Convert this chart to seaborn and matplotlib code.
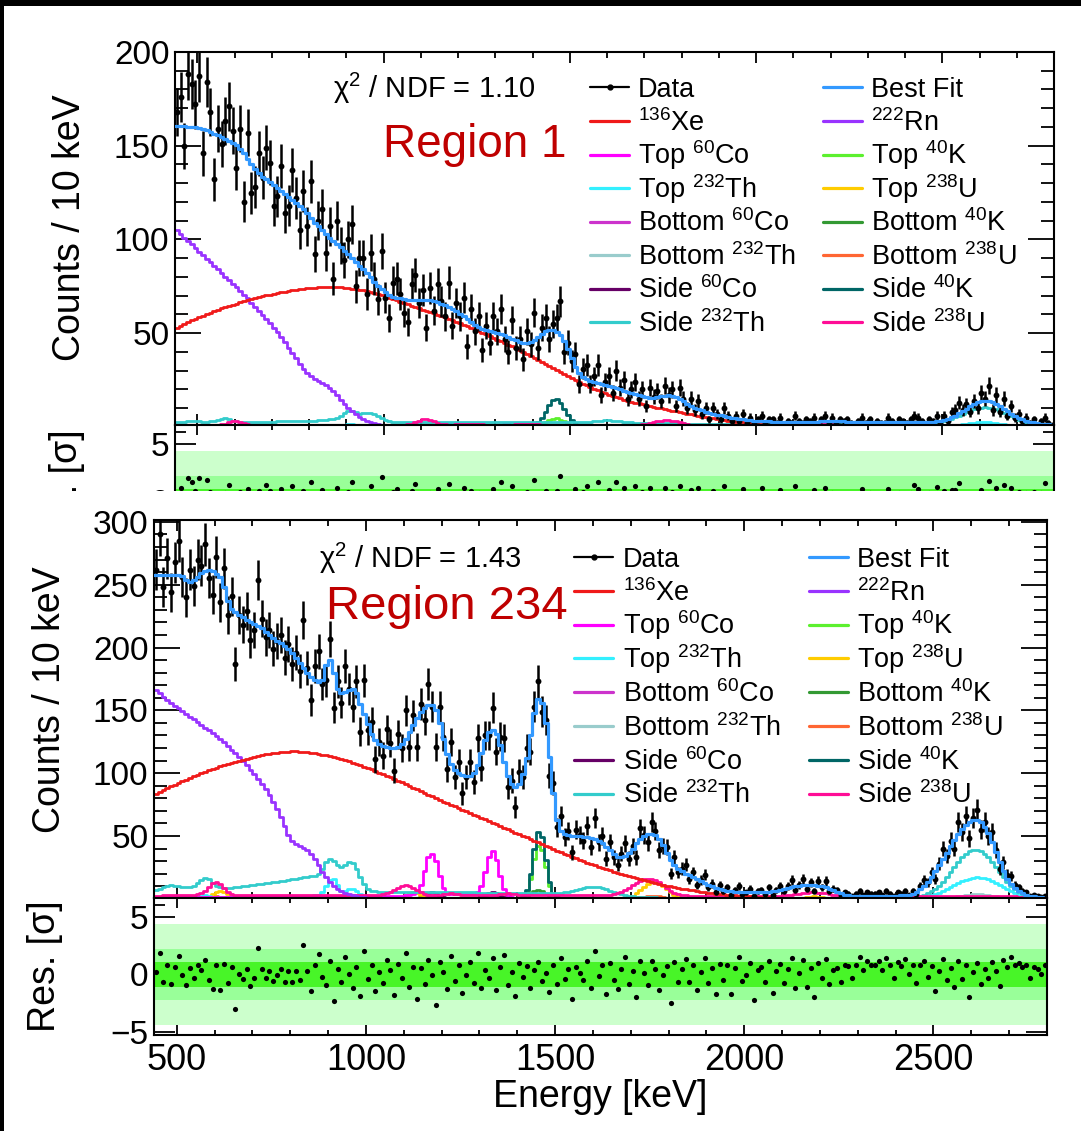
import numpy as np
import matplotlib
matplotlib.use("Agg")
import matplotlib.pyplot as plt
from matplotlib.lines import Line2D
from matplotlib.patches import Rectangle
from matplotlib.ticker import MultipleLocator, FixedLocator
import seaborn as sns

sns.set_theme(style="ticks")
plt.rcParams["font.family"] = ["Liberation Sans", "DejaVu Sans"]
plt.rcParams["mathtext.fontset"] = "custom"
plt.rcParams["mathtext.rm"] = "Liberation Sans"
plt.rcParams["mathtext.it"] = "Liberation Sans:italic"
plt.rcParams["mathtext.bf"] = "Liberation Sans:bold"

# ---------------------------------------------------------------- binning
E_MIN, E_MAX, BIN_W = 440, 2800, 10
edges = np.arange(E_MIN, E_MAX + BIN_W, BIN_W)
centers = edges[:-1] + BIN_W / 2
N_BINS = len(centers)


def seg(start, vals):
    """Bin contents given from the bin centred at `start` onwards; empty elsewhere."""
    out = np.zeros(N_BINS)
    i0 = int(round((start - centers[0]) / BIN_W))
    out[i0:i0 + len(vals)] = vals
    return out


# ================================================================ Region 1
r1_data = [
    168, 176, 150, 188, 183, 172, 187, 146, 184, 168,
    132, 159, 151, 163, 171, 158, 138, 159, 120, 157,
    125, 128, 146, 133, 149, 141, 118, 123, 139, 114,
    118, 137, 122, 105, 126, 107, 131, 92, 110, 116,
    93, 107, 79, 110, 97, 89, 100, 108, 75, 90,
    90, 71, 93, 79, 68, 94, 69, 58, 77, 79,
    71, 61, 56, 76, 81, 66, 73, 53, 74, 62,
    76, 67, 59, 77, 54, 66, 59, 69, 43, 63,
    51, 59, 41, 54, 45, 59, 51, 63, 47, 40,
    57, 42, 47, 36, 51, 44, 61, 42, 53, 58,
    47, 55, 58, 67, 40, 45, 35, 39, 23, 31,
    33, 23, 27, 33, 17, 24, 27, 18, 30, 21,
    25, 15, 20, 24, 15, 20, 11, 21, 16, 19,
    14, 22, 17, 20, 11, 21, 15, 10, 15, 9,
    14, 7, 10, 4, 10, 7, 4, 10, 6, 3,
    6, 3, 7, 2, 5, 2, 4, 6, 2, 4,
    4, 2, 5, 1, 3, 2, 6, 3, 2, 4,
    3, 5, 1, 4, 6, 2, 5, 2, 4, 3,
    4, 2, 1, 3, 5, 2, 4, 1, 3, 2,
    2, 5, 3, 1, 4, 3, 2, 4, 6, 5,
    3, 1, 4, 3, 6, 2, 6, 3, 8, 9,
    13, 9, 12, 8, 14, 10, 18, 15, 22, 9,
    17, 8, 15, 6, 11, 5, 7, 3, 5, 2,
    4, 1, 3, 5, 2, 1,
]
r1_fit = [
    160.5, 160.5, 160.3, 160.2, 160.0, 159.8, 159.5, 159.0, 158.3, 157.5,
    156.5, 155.5, 154.5, 153.5, 152.5, 151.5, 150.5, 148.5, 146.0, 143.0,
    140.0, 137.5, 135.5, 133.5, 132.0, 130.5, 129.0, 127.5, 126.0, 124.5,
    122.5, 121.0, 119.5, 118.0, 116.0, 114.0, 111.5, 109.0, 107.0, 105.0,
    103.0, 101.0, 99.0, 97.5, 96.0, 94.0, 92.0, 90.0, 88.0, 86.0,
    84.0, 82.0, 80.0, 77.5, 75.0, 73.5, 72.0, 70.5, 69.5, 69.0,
    68.5, 68.0, 67.8, 67.7, 67.7, 67.8, 67.8, 67.8, 67.6, 67.2,
    66.6, 65.8, 64.8, 63.8, 62.8, 61.6, 60.3, 59.0, 57.5, 56.0,
    54.5, 53.2, 52.2, 51.5, 51.0, 50.5, 50.2, 49.8, 49.0, 48.0,
    47.0, 46.2, 45.5, 45.0, 45.0, 45.5, 46.5, 48.0, 49.5, 51.0,
    51.8, 51.7, 50.8, 49.0, 46.0, 41.5, 37.0, 32.0, 28.5, 26.5,
    25.5, 24.7, 24.0, 23.5, 23.0, 22.5, 21.8, 21.2, 20.6, 20.0,
    19.3, 18.7, 18.0, 17.4, 16.8, 16.3, 15.8, 15.5, 15.5, 15.8,
    16.3, 16.7, 16.8, 16.5, 15.8, 14.8, 13.6, 12.4, 11.2, 10.3,
    9.5, 8.8, 8.1, 7.5, 7.0, 6.5, 6.1, 5.7, 5.3, 5.0,
    4.7, 4.4, 4.1, 3.8, 3.6, 3.4, 3.2, 3.1, 3.0, 2.9,
    2.85, 2.8, 2.8, 2.8, 2.8, 2.8, 2.8, 2.8, 2.8, 2.8,
    2.8, 2.8, 2.85, 2.9, 3.1, 3.3, 3.4, 3.3, 3.1, 2.9,
    2.7, 2.6, 2.5, 2.5, 2.5, 2.5, 2.5, 2.5, 2.5, 2.5,
    2.5, 2.5, 2.5, 2.5, 2.5, 2.5, 2.5, 2.5, 2.5, 2.5,
    2.5, 2.5, 2.5, 2.7, 2.9, 3.2, 3.7, 4.3, 5.1, 6.0,
    7.2, 8.5, 9.8, 11.1, 12.3, 13.2, 13.8, 14.0, 13.8, 13.2,
    12.2, 11.0, 9.6, 8.3, 7.0, 5.8, 4.8, 4.0, 3.3, 2.8,
    2.4, 2.0, 1.7, 1.5, 1.3, 1.2,
]
r1_xe = seg(445, [
    53.0, 54.0, 55.0, 55.9, 56.8, 57.7, 58.6, 59.4, 60.2, 61.0,
    61.8, 62.5, 63.2, 63.9, 64.6, 65.2, 65.8, 66.4, 67.0, 67.6,
    68.1, 68.6, 69.1, 69.6, 70.1, 70.5, 70.9, 71.3, 71.7, 72.1,
    72.5, 72.8, 73.1, 73.4, 73.7, 73.9, 74.1, 74.3, 74.5, 74.6,
    74.7, 74.7, 74.7, 74.6, 74.5, 74.3, 74.1, 73.8, 73.5, 73.2,
    72.8, 72.3, 71.8, 71.3, 70.7, 70.1, 69.5, 68.9, 68.2, 67.5,
    66.8, 66.1, 65.4, 64.7, 64.0, 63.3, 62.6, 61.9, 61.2, 60.5,
    59.8, 59.1, 58.4, 57.6, 56.8, 56.0, 55.2, 54.4, 53.6, 52.8,
    52.0, 51.1, 50.2, 49.3, 48.4, 47.5, 46.6, 45.7, 44.8, 43.9,
    43.0, 42.0, 41.0, 40.0, 39.0, 38.0, 37.0, 35.9, 34.8, 33.7,
    32.6, 31.5, 30.4, 29.3, 28.2, 27.1, 26.0, 25.0, 24.0, 23.0,
    22.1, 21.2, 20.3, 19.5, 18.7, 17.9, 17.2, 16.5, 15.8, 15.2,
    14.6, 14.0, 13.5, 13.0, 12.5, 12.0, 11.5, 11.1, 10.7, 10.3,
    9.9, 9.5, 9.1, 8.7, 8.3, 7.9, 7.5, 7.1, 6.7, 6.3,
    5.9, 5.5, 5.1, 4.8, 4.5, 4.2, 3.9, 3.6, 3.3, 3.0,
    2.8, 2.6, 2.4, 2.2, 2.0, 1.8, 1.6, 1.4, 1.3, 1.2,
    1.1, 1.0, 0.9, 0.8, 0.7, 0.6, 0.5, 0.45, 0.4, 0.35,
    0.3, 0.25, 0.2, 0.15, 0.1, 0.1, 0.05, 0.05, 0.0, 0.0,
])
r1_rn = seg(445, [
    105.0, 103.0, 101.0, 99.2, 97.3, 95.4, 93.5, 91.6, 89.7, 87.8,
    85.9, 84.0, 82.1, 80.2, 78.3, 76.4, 74.5, 72.5, 70.5, 68.5,
    66.3, 64.1, 61.9, 59.7, 57.5, 55.2, 52.8, 50.4, 47.8, 45.1,
    42.3, 39.4, 36.5, 33.6, 30.8, 28.6, 27.0, 25.8, 24.7, 23.6,
    22.4, 21.0, 19.2, 17.0, 14.6, 12.3, 10.3, 8.5, 6.9, 5.5,
    4.3, 3.3, 2.5, 1.9, 1.4, 1.0, 0.7, 0.5, 0.3, 0.2,
    0.1,
])
r1_side232th = seg(445, [
    2.6, 2.7, 2.8, 2.9, 3.0, 3.0, 2.9, 2.8, 2.8, 2.9,
    3.2, 3.8, 4.4, 4.6, 4.2, 3.4, 2.9, 2.7, 2.6, 2.6,
    2.6, 2.6, 2.7, 2.7, 2.7, 2.8, 2.8, 2.9, 2.9, 3.0,
    3.0, 3.1, 3.1, 3.2, 3.2, 3.3, 3.3, 3.4, 3.5, 3.6,
    3.8, 4.0, 4.4, 5.0, 6.0, 7.4, 8.4, 8.5, 7.8, 7.0,
    7.2, 7.6, 7.5, 6.9, 5.8, 4.6, 3.6, 3.0, 2.7, 2.6,
    2.6, 2.6, 2.6, 2.5, 2.5, 2.5, 2.5, 2.5, 2.5, 2.5,
    2.5, 2.5, 2.5, 2.5, 2.5, 2.4, 2.4, 2.4, 2.4, 2.4,
    2.4, 2.4, 2.4, 2.4, 2.4, 2.4, 2.4, 2.4, 2.4, 2.4,
    2.4, 2.4, 2.4, 2.4, 2.4, 2.4, 2.4, 2.4, 2.4, 2.4,
    2.4, 2.4, 2.4, 2.4, 2.4, 2.4, 2.4, 2.4, 2.4, 2.5,
    2.6, 2.8, 3.0, 3.2, 3.4, 3.5, 3.5, 3.4, 3.2, 3.0,
    2.8, 2.6, 2.4, 2.3, 2.2, 2.2, 2.1, 2.1, 2.1, 2.0,
    2.0, 2.0, 2.0, 1.9, 1.9, 1.9, 1.9, 1.8, 1.8, 1.8,
    1.8, 1.8, 1.7, 1.7, 1.7, 1.7, 1.6, 1.6, 1.6, 1.6,
    1.6, 1.5, 1.5, 1.5, 1.5, 1.5, 1.5, 1.4, 1.4, 1.4,
    1.4, 1.4, 1.4, 1.4, 1.4, 1.3, 1.3, 1.3, 1.3, 1.3,
    1.3, 1.3, 1.3, 1.3, 1.3, 1.3, 1.3, 1.3, 1.3, 1.3,
    1.3, 1.3, 1.3, 1.3, 1.3, 1.3, 1.3, 1.3, 1.3, 1.3,
    1.3, 1.3, 1.3, 1.3, 1.3, 1.3, 1.3, 1.3, 1.3, 1.4,
    1.5, 1.6, 1.8, 2.0, 2.2, 2.5, 3.0, 3.6, 4.3, 5.1,
    6.0, 6.9, 7.8, 8.6, 9.3, 9.9, 10.3, 10.5, 10.3, 9.9,
    9.3, 8.5, 7.6, 6.6, 5.6, 4.6, 3.7, 2.9, 2.3, 1.8,
    1.5, 1.2, 1.0, 0.8, 0.7, 0.6,
])
r1_side238u = seg(445, [
    1.0, 1.0, 1.0, 1.0, 1.0, 1.0, 1.0, 1.0, 1.0, 1.0,
    1.0, 1.1, 1.3, 1.8, 2.6, 3.3, 3.4, 2.8, 2.0, 1.4,
    1.1, 1.0, 1.0, 1.0, 1.0, 1.0, 1.0, 1.0, 1.0, 1.0,
    1.0, 1.0, 1.0, 1.0, 1.0, 1.0, 1.0, 1.0, 1.0, 1.0,
    1.0, 1.0, 1.0, 1.0, 1.0, 1.0, 1.0, 1.0, 1.0, 1.0,
    1.0, 1.0, 1.0, 1.0, 1.0, 1.0, 1.0, 1.0, 1.0, 1.0,
    1.0, 1.1, 1.3, 1.7, 2.4, 3.3, 4.0, 4.2, 3.8, 3.0,
    2.2, 1.6, 1.3, 1.2, 1.2, 1.3, 1.5, 1.7, 1.8, 1.8,
    1.7, 1.5, 1.3, 1.2, 1.1, 1.1, 1.1, 1.1, 1.1, 1.1,
    1.2, 1.4, 1.6, 1.8, 1.8, 1.7, 1.5, 1.3, 1.2, 1.1,
    1.1, 1.1, 1.1, 1.1, 1.0, 1.0, 1.0, 1.0, 1.0, 1.0,
    1.0, 1.0, 1.0, 1.0, 1.0, 1.0, 1.0, 1.0, 1.0, 1.0,
    1.0, 1.0, 1.0, 1.1, 1.2, 1.4, 1.7, 2.1, 2.6, 3.0,
    3.3, 3.5, 3.5, 3.3, 2.9, 2.4, 1.9, 1.5, 1.2, 1.0,
    0.9, 0.9, 0.9, 0.9, 0.9, 0.9, 0.9, 0.9, 0.9, 0.9,
    0.9, 0.9, 0.9, 0.9, 0.9, 0.9, 0.9, 0.9, 0.9, 0.9,
    0.9, 0.9, 0.9, 0.9, 0.9, 0.9, 0.9, 0.9, 0.9, 0.9,
    1.0, 1.1, 1.2, 1.3, 1.4, 1.4, 1.3, 1.2, 1.1, 1.0,
    0.9, 0.9, 0.9, 0.9, 0.9, 0.9, 0.9, 0.9, 0.9, 0.9,
    0.9, 0.9, 0.9, 0.9, 0.9, 0.9, 0.9, 0.9, 0.9, 0.9,
    0.9, 0.9, 0.9, 0.9, 0.9, 0.9, 0.8, 0.8, 0.8, 0.8,
    0.8, 0.8, 0.8, 0.8, 0.8, 0.8, 0.8, 0.8, 0.8, 0.8,
    0.8, 0.8, 0.8, 0.8, 0.8, 0.8, 0.8, 0.8, 0.8, 0.8,
    0.8, 0.8, 0.8, 0.8, 0.8, 0.8,
])
r1_side40k = seg(1395, [0.3, 1.0, 2.4, 4.8, 8.2, 11.8, 14.5, 14.8, 12.8, 9.8, 6.4, 3.7, 1.8, 0.8, 0.3])
r1_top40k = seg(1405, [0.2, 0.6, 1.3, 2.4, 3.6, 4.4, 4.5, 3.9, 2.9, 1.8, 1.0, 0.4, 0.2])
r1_bot40k = seg(1425, [0.3, 0.6, 0.9, 1.0, 0.8, 0.5, 0.2])
r1_top60co = seg(1145, [0.3, 0.8, 1.3, 1.4, 1.1, 0.6, 0.2]) + seg(1305, [0.3, 0.8, 1.3, 1.5, 1.1, 0.6, 0.2])
r1_bot60co = seg(1145, [0.2, 0.5, 0.8, 0.9, 0.7, 0.4, 0.1]) + seg(1305, [0.2, 0.5, 0.8, 0.9, 0.7, 0.4, 0.1])
r1_side60co = seg(1155, [0.2, 0.4, 0.5, 0.4, 0.2]) + seg(1315, [0.2, 0.4, 0.5, 0.4, 0.2])
r1_top232th = (seg(885, [0.3, 0.8, 1.4, 1.6, 1.2, 0.8, 0.9, 1.1, 0.9, 0.5, 0.2])
               + seg(2505, [0.3, 0.4, 0.6, 0.8, 1.0, 1.3, 1.6, 1.9, 2.2, 2.4, 2.5,
                            2.5, 2.4, 2.2, 1.9, 1.6, 1.3, 1.0, 0.8, 0.6, 0.4, 0.3]))
r1_bot232th = seg(2565, [0.3, 0.5, 0.7, 0.8, 0.9, 0.9, 0.8, 0.7, 0.5, 0.3])
r1_top238u = seg(575, [0.3, 0.6, 1.0, 1.1, 0.8, 0.4]) + seg(1715, [0.3, 0.6, 0.9, 1.1, 1.2, 1.1, 0.8, 0.5, 0.2])
r1_bot238u = seg(1735, [0.2, 0.4, 0.5, 0.5, 0.4, 0.2])

# ============================================================== Region 234
r234_data = [
    262, 290, 248, 271, 244, 268, 285, 256, 240, 262,
    249, 270, 265, 282, 255, 242, 272, 236, 263, 226,
    241, 187, 226, 218, 229, 206, 214, 254, 223, 208,
    214, 199, 205, 210, 192, 203, 187, 196, 181, 222,
    184, 158, 185, 197, 171, 174, 207, 152, 173, 156,
    185, 167, 153, 173, 133, 174, 134, 141, 111, 125,
    114, 135, 124, 102, 131, 120, 150, 121, 146, 121,
    155, 142, 171, 153, 121, 153, 129, 103, 125, 97,
    109, 84, 97, 109, 93, 128, 104, 130, 130, 152,
    117, 129, 128, 89, 94, 73, 101, 97, 120, 117,
    153, 173, 149, 142, 98, 92, 57, 66, 49, 54,
    37, 55, 51, 46, 58, 41, 64, 45, 50, 32,
    45, 33, 27, 36, 44, 32, 42, 33, 56, 51,
    45, 61, 54, 39, 42, 41, 20, 33, 21, 24,
    27, 16, 21, 11, 15, 19, 9, 12, 5, 11,
    6, 9, 3, 7, 10, 4, 5, 8, 2, 6,
    7, 4, 9, 3, 7, 10, 6, 10, 15, 7,
    11, 16, 8, 13, 6, 14, 9, 14, 6, 8,
    7, 3, 5, 4, 2, 4, 6, 3, 5, 4,
    4, 5, 3, 6, 4, 2, 5, 4, 6, 3,
    6, 4, 10, 15, 13, 21, 16, 28, 40, 34,
    46, 40, 61, 53, 66, 48, 64, 71, 55, 61,
    50, 53, 39, 24, 29, 19, 18, 11, 9, 6,
    5, 2, 3, 2, 1, 2,
]
r234_fit = [
    257.8, 257.8, 257.8, 257.6, 257.5, 257.5, 257.5, 257.0, 254.0, 252.5,
    253.5, 256.0, 259.0, 261.0, 262.0, 261.0, 258.5, 256.5, 248.0, 237.0,
    231.0, 228.5, 226.0, 224.0, 222.0, 220.5, 219.0, 217.5, 215.5, 212.5,
    210.0, 207.5, 205.5, 203.5, 201.0, 198.5, 196.0, 192.0, 188.0, 184.0,
    180.0, 176.5, 174.0, 172.5, 174.0, 186.0, 190.0, 180.0, 167.0, 164.0,
    164.5, 166.0, 167.0, 164.0, 155.0, 147.0, 139.0, 131.0, 126.0, 123.0,
    121.5, 120.5, 120.0, 120.0, 121.0, 123.5, 127.5, 132.5, 138.5, 144.0,
    148.5, 152.0, 154.0, 154.0, 150.0, 140.0, 127.0, 115.5, 107.5, 102.5,
    100.0, 98.5, 97.5, 97.5, 100.0, 106.5, 116.0, 126.0, 133.0, 134.5,
    131.5, 122.0, 109.0, 98.0, 91.5, 89.0, 91.0, 99.0, 112.0, 130.0,
    148.0, 159.0, 156.0, 140.0, 113.0, 84.0, 63.0, 54.0, 51.5, 50.5,
    50.0, 50.0, 49.8, 49.5, 49.0, 48.4, 47.5, 46.0, 44.0, 41.5,
    38.5, 35.5, 33.5, 33.0, 34.0, 36.5, 40.0, 44.0, 47.5, 50.0,
    51.3, 51.5, 50.5, 47.5, 42.5, 36.5, 31.0, 27.0, 24.0, 21.8,
    20.1, 18.6, 17.1, 15.6, 14.1, 12.6, 11.2, 9.9, 8.8, 7.9,
    7.1, 6.4, 5.9, 5.5, 5.3, 5.2, 5.1, 5.1, 5.1, 5.1,
    5.2, 5.3, 5.5, 5.8, 6.3, 7.0, 7.8, 8.6, 9.4, 10.0,
    10.5, 10.8, 11.0, 11.0, 10.8, 10.4, 9.8, 9.0, 8.0, 6.8,
    5.5, 4.2, 3.2, 2.6, 2.4, 2.3, 2.3, 2.3, 2.3, 2.3,
    2.3, 2.3, 2.3, 2.4, 2.4, 2.4, 2.5, 2.6, 2.8, 3.0,
    4.0, 5.4, 7.5, 10.3, 13.7, 17.5, 21.8, 26.5, 31.5, 36.8,
    42.0, 47.0, 51.8, 55.8, 59.0, 61.3, 62.5, 62.5, 61.0, 57.5,
    52.0, 45.0, 37.0, 29.0, 22.0, 16.0, 11.5, 8.3, 6.0, 4.4,
    3.2, 2.4, 1.8, 1.3, 1.0, 0.8,
]
r234_xe = seg(445, [
    83.5, 85.0, 86.5, 88.0, 89.4, 90.8, 92.2, 93.5, 94.8, 96.1,
    97.4, 98.6, 99.8, 101.0, 102.1, 103.2, 104.3, 105.3, 106.3, 107.3,
    108.2, 109.1, 110.0, 110.8, 111.6, 112.4, 113.1, 113.8, 114.4, 115.0,
    115.5, 116.0, 116.4, 116.7, 117.0, 117.2, 117.3, 117.3, 117.2, 117.0,
    116.7, 116.3, 115.9, 115.4, 114.8, 114.2, 113.6, 112.8, 112.0, 111.2,
    110.3, 109.4, 108.4, 107.4, 106.3, 105.2, 104.1, 102.9, 101.7, 100.5,
    99.2, 97.9, 96.6, 95.3, 94.0, 92.7, 91.3, 89.9, 88.5, 87.1,
    85.7, 84.3, 82.9, 81.5, 80.1, 78.7, 77.4, 76.1, 74.8, 73.5,
    72.2, 70.9, 69.6, 68.3, 67.0, 65.7, 64.4, 63.1, 61.8, 60.5,
    59.2, 57.9, 56.6, 55.3, 54.0, 52.7, 51.4, 50.1, 48.8, 47.5,
    46.2, 44.9, 43.6, 42.3, 41.0, 39.7, 38.4, 37.1, 35.9, 34.7,
    33.5, 32.3, 31.1, 29.9, 28.8, 27.7, 26.6, 25.6, 24.6, 23.6,
    22.6, 21.6, 20.6, 19.7, 18.8, 17.9, 17.0, 16.2, 15.4, 14.6,
    13.8, 13.1, 12.4, 11.7, 11.0, 10.4, 9.8, 9.2, 8.6, 8.1,
    7.6, 7.1, 6.6, 6.1, 5.7, 5.3, 4.9, 4.5, 4.1, 3.8,
    3.5, 3.2, 2.9, 2.6, 2.4, 2.2, 2.0, 1.8, 1.6, 1.4,
    1.2, 1.1, 1.0, 0.9, 0.8, 0.7, 0.6, 0.5, 0.4, 0.35,
    0.3, 0.25, 0.2, 0.15, 0.1, 0.1, 0.05, 0.05, 0.0, 0.0,
])
r234_rn = seg(445, [
    166.0, 163.5, 161.0, 158.5, 156.0, 153.8, 151.6, 149.4, 147.2, 145.0,
    142.8, 140.6, 138.4, 136.2, 134.0, 131.8, 129.5, 127.0, 124.4, 121.7,
    118.8, 115.8, 112.7, 109.5, 106.2, 102.8, 99.2, 95.4, 91.4, 87.1,
    82.4, 77.2, 71.5, 65.0, 58.0, 51.0, 45.8, 43.3, 41.8, 40.5,
    38.8, 36.0, 31.5, 26.5, 21.5, 17.0, 13.3, 10.3, 8.0, 6.2,
    4.8, 3.7, 2.8, 2.1, 1.6, 1.2, 0.9, 0.6, 0.4, 0.25,
    0.1,
])
r234_side232th = seg(445, [
    7.0, 8.0, 9.5, 10.5, 11.0, 10.5, 10.0, 9.5, 9.0, 9.5,
    10.5, 12.5, 15.0, 16.5, 15.5, 12.5, 10.0, 9.0, 8.5, 8.5,
    8.8, 9.2, 9.6, 10.0, 10.4, 10.8, 11.2, 11.6, 12.0, 12.4,
    12.8, 13.2, 13.6, 14.0, 14.5, 15.0, 15.5, 16.0, 16.5, 17.0,
    17.5, 18.0, 18.5, 20.0, 24.0, 29.5, 32.0, 30.0, 26.5, 25.5,
    27.0, 29.0, 28.5, 24.0, 17.5, 11.5, 8.0, 6.5, 5.8, 5.4,
    5.2, 5.1, 5.0, 5.0, 5.0, 5.0, 5.0, 5.0, 5.0, 5.0,
    5.0, 5.0, 5.0, 5.0, 5.0, 5.0, 5.0, 5.0, 5.0, 5.0,
    5.0, 5.0, 5.0, 5.0, 5.0, 4.9, 4.9, 4.9, 4.9, 4.9,
    4.9, 4.9, 4.8, 4.8, 4.8, 4.8, 4.8, 4.7, 4.7, 4.7,
    4.7, 4.7, 4.6, 4.6, 4.6, 4.6, 4.7, 4.9, 5.2, 5.6,
    6.1, 6.8, 7.6, 8.4, 9.0, 9.4, 9.4, 9.0, 8.3, 7.4,
    6.3, 5.2, 4.2, 3.4, 2.8, 2.4, 2.0, 1.7, 1.5, 1.3,
    1.2, 1.1, 1.0, 0.9, 0.9, 0.8, 0.8, 0.7, 0.7, 0.7,
    0.6, 0.6, 0.6, 0.6, 0.6, 0.6, 0.6, 0.6, 0.6, 0.6,
    0.6, 0.6, 0.6, 0.6, 0.5, 0.5, 0.5, 0.5, 0.5, 0.5,
    0.5, 0.5, 0.5, 0.5, 0.5, 0.5, 0.5, 0.5, 0.5, 0.5,
    0.5, 0.5, 0.5, 0.5, 0.5, 0.5, 0.5, 0.5, 0.5, 0.5,
    0.5, 0.5, 0.5, 0.5, 0.5, 0.5, 0.5, 0.5, 0.5, 0.5,
    0.5, 0.5, 0.5, 0.5, 0.5, 0.5, 0.6, 0.7, 0.8, 1.0,
    1.3, 1.7, 2.3, 3.1, 4.3, 6.0, 8.0, 10.5, 13.5, 17.0,
    21.0, 25.0, 29.0, 33.0, 36.0, 38.0, 39.0, 39.0, 38.0, 36.0,
    33.0, 29.0, 25.0, 21.0, 17.0, 13.0, 10.0, 7.5, 5.5, 4.0,
    3.0, 2.2, 1.6, 1.2, 0.9, 0.7,
])
r234_side238u = seg(445, [
    2.5, 2.5, 2.6, 2.6, 2.7, 2.7, 2.8, 2.8, 2.9, 3.0,
    3.2, 3.6, 4.5, 6.5, 9.5, 12.5, 13.6, 12.0, 8.5, 5.5,
    3.8, 3.2, 3.0, 3.0, 3.0, 3.0, 3.0, 3.0, 3.0, 3.0,
    3.0, 3.0, 3.0, 3.0, 3.0, 3.0, 3.0, 3.0, 3.0, 3.0,
    3.0, 3.0, 3.0, 3.0, 3.0, 3.0, 3.0, 3.0, 3.0, 3.0,
    3.0, 3.0, 3.0, 3.0, 3.0, 3.0, 3.0, 3.0, 3.1, 3.3,
    3.6, 4.2, 5.2, 6.8, 8.8, 10.5, 11.2, 10.5, 8.8, 6.8,
    5.0, 3.8, 3.2, 3.0, 3.0, 3.2, 3.6, 4.0, 4.2, 4.0,
    3.6, 3.2, 3.0, 2.9, 2.8, 2.8, 2.8, 2.8, 2.8, 2.8,
    3.0, 3.4, 3.9, 4.2, 4.1, 3.7, 3.2, 2.9, 2.8, 2.8,
    2.8, 2.8, 2.8, 2.8, 2.8, 2.7, 2.7, 2.7, 2.7, 2.7,
    2.7, 2.7, 2.7, 2.7, 2.7, 2.7, 2.7, 2.7, 2.8, 2.9,
    3.1, 3.5, 4.2, 5.3, 6.8, 8.6, 10.6, 12.6, 14.3, 15.5,
    16.0, 15.8, 14.8, 13.0, 10.8, 8.5, 6.4, 4.8, 3.7, 3.0,
    2.6, 2.4, 2.3, 2.2, 2.2, 2.2, 2.2, 2.2, 2.2, 2.2,
    2.2, 2.2, 2.2, 2.2, 2.1, 2.1, 2.1, 2.1, 2.1, 2.1,
    2.1, 2.1, 2.1, 2.2, 2.3, 2.5, 2.7, 3.0, 3.3, 3.7,
    4.1, 4.5, 4.8, 5.0, 5.0, 4.9, 4.6, 4.2, 3.7, 3.2,
    2.8, 2.5, 2.3, 2.1, 2.0, 2.0, 2.0, 2.0, 2.0, 2.0,
    2.0, 2.0, 2.0, 2.0, 2.0, 2.0, 2.0, 2.0, 2.0, 2.0,
    2.0, 2.0, 2.0, 2.0, 2.0, 2.0, 2.0, 2.0, 2.0, 2.0,
    2.0, 2.0, 2.0, 2.0, 2.0, 2.0, 2.0, 2.0, 2.0, 2.0,
    2.0, 2.0, 2.0, 1.9, 1.9, 1.9, 1.8, 1.8, 1.7, 1.6,
    1.5, 1.4, 1.2, 1.0, 0.8, 0.6,
])
r234_top60co = seg(445, [
    1.2, 1.2, 1.2, 1.2, 1.2, 1.2, 1.2, 1.2, 1.2, 1.2,
    1.2, 1.2, 1.2, 1.2, 1.2, 1.2, 1.2, 1.2, 1.2, 1.2,
    1.3, 1.3, 1.3, 1.3, 1.3, 1.3, 1.3, 1.3, 1.3, 1.3,
    1.4, 1.4, 1.4, 1.4, 1.4, 1.4, 1.4, 1.4, 1.4, 1.4,
    1.5, 1.5, 1.5, 1.5, 1.5, 1.5, 1.5, 1.5, 1.5, 1.5,
    1.6, 1.6, 1.6, 1.6, 1.6, 1.6, 1.6, 1.6, 1.6, 1.6,
    1.8, 1.9, 2.0, 2.1, 2.2, 2.4, 2.6, 2.9, 3.4, 5.0,
    11.0, 22.0, 33.0, 36.0, 30.0, 18.0, 8.5, 4.5, 3.6, 3.4,
    3.4, 3.4, 3.5, 3.6, 3.9, 5.0, 10.0, 21.5, 33.5, 38.0,
    31.0, 18.0, 8.0, 3.0, 1.2, 0.6, 0.3, 0.2, 0.1, 0.1,
])
r234_top232th = seg(445, [
    0.8, 0.8, 0.9, 0.9, 1.0, 1.0, 1.0, 1.0, 1.0, 1.1,
    1.3, 1.7, 2.3, 2.6, 2.2, 1.6, 1.2, 1.1, 1.1, 1.1,
    1.1, 1.1, 1.2, 1.2, 1.2, 1.3, 1.3, 1.3, 1.4, 1.4,
    1.5, 1.5, 1.6, 1.6, 1.7, 1.8, 1.9, 2.0, 2.1, 2.2,
    2.3, 2.4, 2.6, 3.0, 5.0, 10.0, 15.0, 15.5, 11.0, 6.5,
    6.0, 7.5, 8.0, 6.5, 4.0, 2.2, 1.2, 0.8, 0.6, 0.5,
]) + seg(2455, [
    0.6, 0.9, 1.3, 1.9, 2.7, 3.7, 4.9, 6.3, 7.8, 9.4,
    11.0, 12.6, 14.0, 15.2, 16.1, 16.7, 17.0, 16.9, 16.4, 15.5,
    14.2, 12.7, 11.0, 9.2, 7.5, 5.9, 4.5, 3.3, 2.4, 1.7,
    1.2, 0.8, 0.5, 0.3, 0.2,
])
r234_bot232th = seg(2525, [0.3, 0.6, 0.9, 1.3, 1.8, 2.3, 2.8, 3.2, 3.5, 3.6,
                           3.5, 3.2, 2.8, 2.3, 1.8, 1.3, 0.9, 0.6, 0.4, 0.2])
r234_side40k = seg(1405, [0.5, 2.0, 7.0, 20.0, 40.0, 53.0, 49.0, 31.0, 13.0, 4.0, 1.0])
r234_top40k = seg(1405, [0.4, 1.6, 5.5, 16.0, 32.0, 42.0, 39.0, 25.0, 10.0, 3.0, 0.8])
r234_bot40k = seg(1415, [0.5, 1.5, 3.5, 6.0, 7.0, 6.5, 4.0, 1.8, 0.5])
r234_side60co = (seg(1135, [0.4, 1.2, 2.8, 4.6, 5.2, 4.3, 2.5, 1.0, 0.4])
                 + seg(1295, [0.4, 1.2, 2.9, 4.8, 5.4, 4.4, 2.5, 1.0, 0.4]))
r234_bot60co = (seg(1145, [0.5, 1.3, 2.4, 2.8, 2.2, 1.1, 0.4])
                + seg(1305, [0.5, 1.3, 2.4, 2.9, 2.3, 1.1, 0.4]))
r234_top238u = (seg(575, [0.5, 1.5, 3.5, 5.5, 6.5, 5.5, 3.5, 1.5, 0.5])
                + seg(1085, [0.5, 1.5, 3.0, 4.5, 5.0, 4.5, 3.0, 1.5, 0.5])
                + seg(1685, [0.5, 1.2, 2.5, 4.5, 7.0, 9.5, 11.5, 13.0, 13.2, 12.2,
                             10.2, 7.6, 5.0, 3.0, 1.6, 0.8, 0.3])
                + seg(2155, [0.5, 1.0, 1.5, 1.8, 1.5, 1.0, 0.5]))
r234_bot238u = (seg(585, [0.5, 1.2, 2.0, 1.2, 0.5])
                + seg(1715, [0.5, 1.0, 1.6, 2.2, 2.5, 2.4, 2.0, 1.4, 0.8, 0.4]))

# ---------------------------------------------------------- styling tables
KEY_COL1 = ["data", "xe", "top60co", "top232th", "bot60co", "bot232th", "side60co", "side232th"]
KEY_COL2 = ["fit", "rn", "top40k", "top238u", "bot40k", "bot238u", "side40k", "side238u"]
LABELS = {
    "data": "Data", "fit": "Best Fit",
    "xe": r"$^{136}$Xe", "rn": r"$^{222}$Rn",
    "top60co": r"Top $^{60}$Co", "top40k": r"Top $^{40}$K",
    "top232th": r"Top $^{232}$Th", "top238u": r"Top $^{238}$U",
    "bot60co": r"Bottom $^{60}$Co", "bot40k": r"Bottom $^{40}$K",
    "bot232th": r"Bottom $^{232}$Th", "bot238u": r"Bottom $^{238}$U",
    "side60co": r"Side $^{60}$Co", "side40k": r"Side $^{40}$K",
    "side232th": r"Side $^{232}$Th", "side238u": r"Side $^{238}$U",
}
COLORS = {
    "data": "black", "fit": "#3399ff",
    "xe": "#f01a1a", "rn": "#9933ff",
    "top60co": "#ff00ff", "top40k": "#5cf02e",
    "top232th": "#33f0ff", "top238u": "#ffcc00",
    "bot60co": "#cc33cc", "bot40k": "#339933",
    "bot232th": "#99cccc", "bot238u": "#ff6633",
    "side60co": "#660066", "side40k": "#006666",
    "side232th": "#33cccc", "side238u": "#ff0d96",
}
DRAW_ORDER = ["bot232th", "bot60co", "side60co", "bot40k", "bot238u", "top238u", "top40k",
              "top232th", "top60co", "side40k", "side232th", "side238u", "rn", "xe"]

regions = [
    dict(data=r1_data, fit=r1_fit,
         comps=dict(xe=r1_xe, rn=r1_rn, top60co=r1_top60co, top232th=r1_top232th,
                    bot60co=r1_bot60co, bot232th=r1_bot232th, side60co=r1_side60co,
                    side232th=r1_side232th, top40k=r1_top40k, top238u=r1_top238u,
                    bot40k=r1_bot40k, bot238u=r1_bot238u, side40k=r1_side40k,
                    side238u=r1_side238u),
         ylim=(1.0, 200.0), chi2="1.10", name="Region 1"),
    dict(data=r234_data, fit=r234_fit,
         comps=dict(xe=r234_xe, rn=r234_rn, top60co=r234_top60co, top232th=r234_top232th,
                    bot60co=r234_bot60co, bot232th=r234_bot232th, side60co=r234_side60co,
                    side232th=r234_side232th, top40k=r234_top40k, top238u=r234_top238u,
                    bot40k=r234_bot40k, bot238u=r234_bot238u, side40k=r234_side40k,
                    side238u=r234_side238u),
         ylim=(0.6, 301.5), chi2="1.43", name="Region 234"),
]
for r in regions:
    assert len(r["data"]) == N_BINS and len(r["fit"]) == N_BINS

# ------------------------------------------------------------------ figure
W, H = 1081, 1131
fig = plt.figure(figsize=(W / 100, H / 100), dpi=100, facecolor="white")


def rect(l, t, r, b):
    return [l / W, 1 - b / H, (r - l) / W, (b - t) / H]


def fx(px):
    return px / W


def fy(py):
    return 1 - py / H


def draw_step(ax, vals, color, lw, z):
    vals = np.asarray(vals, dtype=float)
    sns.lineplot(x=edges, y=np.append(vals, vals[-1]), ax=ax, color=color, linewidth=lw,
                 drawstyle="steps-post", estimator=None, errorbar=None, legend=False, zorder=z)


def style_axes(ax, kind, xlabels=False):
    ax.set_xlim(E_MIN, E_MAX)
    ax.set_facecolor("white")
    ax.xaxis.set_major_locator(MultipleLocator(500))
    ax.xaxis.set_minor_locator(MultipleLocator(100))
    for sp in ax.spines.values():
        sp.set_visible(True)
        sp.set_linewidth(1.5)
        sp.set_color("black")
    ax.tick_params(which="both", direction="in", top=True, right=True, bottom=True, left=True,
                   color="black", labelcolor="black", width=1.3)
    if kind == "main":
        ax.yaxis.set_major_locator(MultipleLocator(50))
        ax.yaxis.set_minor_locator(MultipleLocator(10))
        ax.tick_params(axis="y", which="major", length=18.5, labelsize=24, pad=4)
        ax.tick_params(axis="y", which="minor", length=9.3)
        ax.tick_params(axis="x", which="major", length=8.0)
        ax.tick_params(axis="x", which="minor", length=4.0)
        ax.tick_params(axis="x", labelbottom=False)
    else:
        ax.set_ylim(-5.26, 6.65)
        ax.yaxis.set_major_locator(FixedLocator([-5, 0, 5]))
        ax.yaxis.set_minor_locator(MultipleLocator(1))
        ax.tick_params(axis="y", which="major", length=15.0, labelsize=24, pad=4)
        ax.tick_params(axis="y", which="minor", length=8.0)
        ax.tick_params(axis="x", which="major", length=7.2, labelsize=26, pad=6)
        ax.tick_params(axis="x", which="minor", length=3.6)
        ax.tick_params(axis="x", labelbottom=xlabels)


# pixel layout of the two stacked fit figures
layouts = [
    dict(main=(175, 52, 1054, 425), res=(175, 425, 1054, 562), z=0,
         ylab_main=(-0.119, 0.528), ylab_res=(-0.123, 0.49),
         chi_xy=(333, 98), name_xy=(383, 157), name_size=33,
         key_x=(590, 629, 638, 823, 862, 871),
         rows=[87.3, 121, 154.7, 188, 221.7, 255, 288.7, 322]),
    dict(main=(154, 520, 1047, 898), res=(154, 898, 1047, 1035), z=2,
         ylab_main=(-0.116, 0.524), ylab_res=(-0.122, 0.50),
         chi_xy=(319, 568), name_xy=(326, 619), name_size=34,
         key_x=(574, 613, 623, 809, 848, 857),
         rows=[557.3, 591, 624.7, 658.3, 692.3, 726, 760, 793.7]),
]

for reg, lay in zip(regions, layouts):
    data = np.asarray(reg["data"], dtype=float)
    fit = np.asarray(reg["fit"], dtype=float)

    ax = fig.add_axes(rect(*lay["main"]))
    axr = fig.add_axes(rect(*lay["res"]))
    ax.set_zorder(lay["z"])
    axr.set_zorder(lay["z"])

    # components
    for i, key in enumerate(DRAW_ORDER):
        draw_step(ax, reg["comps"][key], COLORS[key], 2.0, 2 + i * 0.01)
    # data with Poisson errors
    ax.errorbar(centers, data, yerr=np.sqrt(data), fmt="none", ecolor="black",
                elinewidth=1.8, capsize=0, zorder=4)
    sns.scatterplot(x=centers, y=data, ax=ax, color="black", s=18, linewidth=0,
                    legend=False, zorder=5)
    # total fit on top
    draw_step(ax, fit, COLORS["fit"], 2.3, 6)
    ax.set_ylim(*reg["ylim"])
    style_axes(ax, "main")
    ax.set_xlabel("")
    ax.set_ylabel("Counts / 10 keV", fontsize=27, color="black")
    ax.yaxis.label.set_va("center")
    ax.yaxis.set_label_coords(*lay["ylab_main"])

    # normalised residuals
    pull = (data - fit) / np.sqrt(np.where(data > 0, data, fit))
    axr.axhspan(-4.35, 4.35, color="#ccffcc", lw=0, zorder=1)
    axr.axhspan(-2.2, 2.2, color="#99ff99", lw=0, zorder=1.1)
    axr.axhspan(-1.1, 1.1, color="#48f528", lw=0, zorder=1.2)
    sns.scatterplot(x=centers, y=pull, ax=axr, color="black", s=14, linewidth=0,
                    legend=False, zorder=3)
    style_axes(axr, "res", xlabels=(lay["z"] == 2))
    axr.set_ylabel("Res. [σ]", fontsize=27, color="black")
    axr.yaxis.label.set_va("center")
    axr.yaxis.set_label_coords(*lay["ylab_res"])
    if lay["z"] == 2:
        axr.set_xlabel("Energy [keV]", fontsize=27, color="black")
        axr.xaxis.label.set_va("center")
        axr.xaxis.set_label_coords(0.5, -0.453)
    else:
        axr.set_xlabel("")

    # annotations
    fig.text(fx(lay["chi_xy"][0]), fy(lay["chi_xy"][1]), "χ$^{2}$ / NDF = " + reg["chi2"],
             fontsize=21, color="black", va="baseline", ha="left", zorder=5)
    fig.text(fx(lay["name_xy"][0]), fy(lay["name_xy"][1]), reg["name"],
             fontsize=lay["name_size"], color="#bf0000", va="baseline", ha="left", zorder=5)

    # legend keys
    x0a, x1a, xta, x0b, x1b, xtb = lay["key_x"]
    for keys, (x0, x1, xt) in ((KEY_COL1, (x0a, x1a, xta)), (KEY_COL2, (x0b, x1b, xtb))):
        for key, y in zip(keys, lay["rows"]):
            lw = 1.6 if key == "data" else 2.3
            fig.add_artist(Line2D([fx(x0), fx(x1)], [fy(y), fy(y)], color=COLORS[key], lw=lw,
                                  transform=fig.transFigure, zorder=5))
            if key == "data":
                fig.add_artist(Line2D([fx((x0 + x1) / 2)], [fy(y)], marker="o", ms=3.5,
                                      color="black", transform=fig.transFigure, zorder=5))
            fig.text(fx(xt), fy(y + 9.7), LABELS[key], fontsize=19.5, color="black",
                     va="baseline", ha="left", zorder=5)

    if lay["z"] == 0:
        # the second figure is pasted over the lower part of the first one
        fig.add_artist(Rectangle((0, 0), 1, fy(491), transform=fig.transFigure,
                                 facecolor="white", edgecolor="none", zorder=1))

# dark frame along the top and left edges
fig.add_artist(Rectangle((0, fy(6)), 1, 6 / H, transform=fig.transFigure,
                         facecolor="black", edgecolor="none", zorder=20))
fig.add_artist(Rectangle((0, 0), 4 / W, 1, transform=fig.transFigure,
                         facecolor="black", edgecolor="none", zorder=20))

fig.savefig("out.png", dpi=100, facecolor="white")
